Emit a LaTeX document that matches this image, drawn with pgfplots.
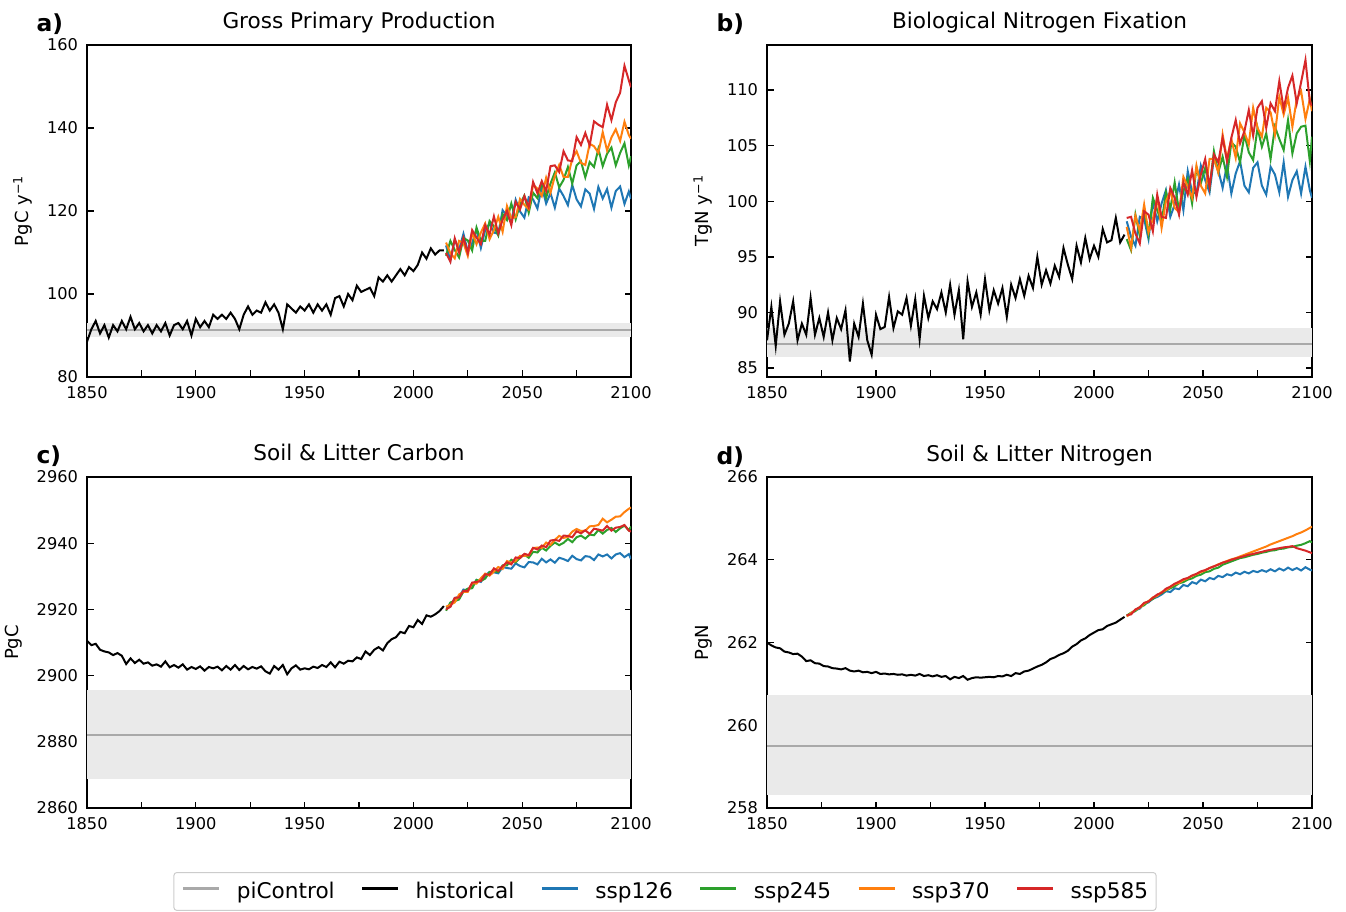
\documentclass[border=0pt]{standalone}
\usepackage{pgfplots}
\pgfplotsset{compat=1.18}
\usepackage{pgfplotstable}
\usepackage{fontspec}
\setmainfont{DejaVu Sans}
\definecolor{c126}{HTML}{1F77B4}
\definecolor{c245}{HTML}{2CA02C}
\definecolor{c370}{HTML}{FF7F0E}
\definecolor{c585}{HTML}{D62728}
\definecolor{pic}{HTML}{A9A9A9}
\definecolor{band}{HTML}{EAEAEA}
\definecolor{lgd}{HTML}{CCCCCC}

% ---------- Panel a: GPP ----------
\pgfplotstableread[row sep=\\]{year val\\
1850 88.5\\1852 91.5\\1854 93.5\\1856 90.5\\1858 92.5\\1860 89.5\\1862 92.5\\1864 91\\1866 93.5\\1868 91.5\\
1870 94.5\\1872 91.5\\1874 93\\1876 91\\1878 92.5\\1880 90.5\\1882 92.5\\1884 91\\1886 93\\1888 90\\
1890 92.5\\1892 93\\1894 91.5\\1896 93.5\\1898 90\\1900 94\\1902 92\\1904 93.5\\1906 92\\1908 95\\
1910 94\\1912 95\\1914 94\\1916 95.5\\1918 94\\1920 91.5\\1922 95\\1924 97\\1926 95\\1928 96\\
1930 95.5\\1932 98\\1934 96\\1936 97.5\\1938 95.5\\1940 91.5\\1942 97.5\\1944 96.5\\1946 95.5\\1948 97\\
1950 96\\1952 97.5\\1954 95.5\\1956 97.5\\1958 96\\1960 97.5\\1962 95\\1964 99\\1966 99.5\\1968 97\\
1970 100\\1972 98.5\\1974 102\\1976 100.5\\1978 101\\1980 101.5\\1982 99.5\\1984 104\\1986 103\\1988 104.5\\
1990 103\\1992 104.5\\1994 106\\1996 104.5\\1998 106.5\\2000 105.5\\2002 107\\2004 110\\2006 108.5\\2008 111\\
2010 109.5\\2012 110.5\\2014 110.5\\
}\histA
\pgfplotstableread[row sep=\\]{year s126 s245 s370 s585\\
2015 111.7 109.2 112.4 109.9\\2017 108.1 112.8 109.8 107.8\\2019 113.1 110.6 108.6 113.4\\2021 110.7 108.8 112.8 110.0\\
2023 114.5 113.5 112.3 113.5\\2025 110.2 112.9 109.2 109.9\\2027 112.3 110.5 114.8 115.4\\2029 115.6 116.0 112.0 113.6\\
2031 111.1 112.8 114.8 112.0\\2033 115.4 112.8 117.0 116.6\\2035 117.0 117.6 113.2 114.3\\2037 114.8 116.3 115.4 118.7\\
2039 114.5 114.1 118.6 114.6\\2041 120.2 119.2 115.0 117.9\\2043 118.8 117.8 121.2 120.0\\2045 117.5 121.8 118.3 116.6\\
2047 122.7 118.0 118.5 122.2\\2049 119.9 121.6 122.9 120.4\\2051 118.4 123.7 121.5 123.6\\2053 123.3 119.6 120.4 120.9\\
2055 122.8 124.4 126.3 127.0\\2057 120.6 123.1 125.4 124.3\\2059 125.9 126.8 123.6 127.2\\2061 121.8 123.2 128.0 124.8\\
2063 124.3 126.6 124.4 130.8\\2065 120.8 129.3 128.4 131.0\\2067 125.4 125.7 131.1 129.4\\2069 123.6 127.5 128.2 134.4\\
2071 121.4 130.6 128.2 132.2\\2073 126.3 126.6 132.6 132.0\\2075 122.8 131.0 134.4 137.8\\2077 121.1 132.0 131.6 135.9\\
2079 125.2 128.1 131.1 138.8\\2081 124.2 131.8 136.2 135.8\\2083 120.5 130.6 135.6 141.6\\2085 125.8 135.0 134.0 140.8\\
2087 123.0 130.8 139.0 140.2\\2089 125.3 133.8 134.6 145.6\\2091 120.8 135.3 137.7 141.9\\2093 124.8 131.0 139.7 146.2\\
2095 125.9 134.0 136.9 148.5\\2097 121.7 136.3 141.5 155.0\\2099 124.7 131.0 138.3 151.5\\2100 122.9 133.2 137.4 149.8\\
}\sspA

% ---------- Panel b: BNF ----------
\pgfplotstableread[row sep=\\]{year val\\
1850 87.5\\1852 90.5\\1854 87\\1856 91\\1858 88\\1860 89\\1862 91\\1864 87.5\\1866 89\\1868 88\\
1870 91.3\\1872 88\\1874 89.5\\1876 87.8\\1878 90\\1880 87.5\\1882 89.5\\1884 88.5\\1886 90.2\\1888 85.6\\
1890 89\\1892 87.8\\1894 90.8\\1896 87.5\\1898 86.2\\1900 89.8\\1902 88.5\\1904 88.7\\1906 91.4\\1908 88.6\\
1910 90.1\\1912 89.8\\1914 91.3\\1916 88.8\\1918 91.2\\1920 87.6\\1922 91.5\\1924 89.5\\1926 91\\1928 90.3\\
1930 91.8\\1932 90\\1934 92.5\\1936 89.8\\1938 92\\1940 87.6\\1942 92.8\\1944 90.5\\1946 91.8\\1948 89.8\\
1950 93\\1952 90.2\\1954 92\\1956 90.8\\1958 92.2\\1960 89.6\\1962 92.5\\1964 91.3\\1966 93\\1968 91.5\\
1970 93.3\\1972 92.2\\1974 95\\1976 92.5\\1978 93.8\\1980 92.6\\1982 94.2\\1984 93.2\\1986 95.8\\1988 94.3\\
1990 93\\1992 96\\1994 94.5\\1996 96.7\\1998 94.8\\2000 96\\2002 95\\2004 97.5\\2006 96.3\\2008 96.5\\
2010 98.5\\2012 96.3\\2014 97\\
}\histB
\pgfplotstableread[row sep=\\]{year s126 s245 s370 s585\\
2015 98.2 96.6 97.7 98.5\\2017 96.8 95.6 95.8 98.6\\2019 96.0 98.8 98.7 97.1\\2021 98.6 96.9 97.3 96.2\\
2023 98.4 99.1 99.7 99.1\\2025 96.6 97.0 97.2 98.8\\2027 100.0 100.3 98.4 97.3\\2029 98.2 99.2 100.3 100.6\\
2031 99.8 98.1 97.6 98.6\\2033 101.0 100.8 100.0 98.5\\2035 98.6 99.3 100.9 101.2\\2037 99.7 101.7 99.4 100.3\\
2039 101.5 99.1 99.0 98.8\\2041 99.2 100.9 102.2 101.7\\2043 102.7 102.0 101.3 100.6\\2045 100.8 99.8 100.3 102.8\\
2047 100.7 103.0 103.2 100.4\\2049 103.2 101.6 101.4 102.4\\2051 101.9 103.0 100.7 103.8\\2053 100.8 101.2 103.8 101.3\\
2055 103.9 104.5 103.8 104.2\\2057 102.8 102.6 102.6 103.5\\2059 101.2 104.0 106.0 105.7\\2061 103.3 102.2 103.8 103.6\\
2063 100.7 105.3 105.6 105.7\\2065 102.5 104.9 103.9 107.3\\2067 103.6 103.5 107.0 105.2\\2069 101.4 106.0 106.2 106.3\\
2071 100.8 104.4 105.1 108.2\\2073 103.0 103.7 108.4 105.9\\2075 103.5 106.6 106.6 108.4\\2077 101.4 104.9 105.8 109.0\\
2079 100.6 106.1 108.4 106.6\\2081 103.1 103.8 108.0 108.8\\2083 102.4 106.7 106.0 108.1\\2085 100.8 105.6 109.4 110.8\\
2087 103.5 104.6 107.8 108.3\\2089 100.4 107.3 109.3 110.2\\2091 101.9 104.3 106.7 111.3\\2093 102.7 106.1 109.2 108.8\\
2095 100.7 106.7 109.9 110.7\\2097 103.1 106.8 107.4 112.7\\2099 101.0 103.6 109.2 108.9\\2100 100.3 105.8 108.1 108.6\\
}\sspB

% ---------- Panel c: Soil C ----------
\pgfplotstableread[row sep=\\]{year val\\
1850 2910.5\\1852 2909.2\\1854 2909.6\\1856 2907.8\\1858 2907.3\\1860 2907.0\\1862 2906.2\\1864 2906.8\\1866 2906.0\\1868 2903.5\\
1870 2905.2\\1872 2903.8\\1874 2904.8\\1876 2903.6\\1878 2904.0\\1880 2903.0\\1882 2903.4\\1884 2902.7\\1886 2904.3\\1888 2902.5\\
1890 2903.2\\1892 2902.4\\1894 2903.4\\1896 2901.8\\1898 2902.6\\1900 2902.0\\1902 2902.8\\1904 2901.5\\1906 2902.6\\1908 2902.2\\
1910 2902.7\\1912 2901.6\\1914 2902.9\\1916 2901.8\\1918 2903.2\\1920 2901.7\\1922 2902.9\\1924 2901.9\\1926 2902.6\\1928 2902.1\\
1930 2902.8\\1932 2901.3\\1934 2900.6\\1936 2902.9\\1938 2901.8\\1940 2903.2\\1942 2900.4\\1944 2902.2\\1946 2903.1\\1948 2901.8\\
1950 2902.2\\1952 2901.9\\1954 2902.7\\1956 2902.3\\1958 2903.2\\1960 2902.6\\1962 2904.0\\1964 2902.5\\1966 2904.2\\1968 2903.6\\
1970 2904.5\\1972 2904.3\\1974 2905.5\\1976 2905.0\\1978 2907.3\\1980 2906.2\\1982 2907.8\\1984 2908.6\\1986 2907.6\\1988 2909.8\\
1990 2911.0\\1992 2911.6\\1994 2913.2\\1996 2912.8\\1998 2915.0\\2000 2914.6\\2002 2916.8\\2004 2915.6\\2006 2918.2\\2008 2917.8\\
2010 2918.5\\2012 2919.5\\2014 2921.0\\
}\histC
\pgfplotstableread[row sep=\\]{year s126 s245 s370 s585\\
2015 2920.6 2919.6 2920.8 2920.0\\2017 2920.9 2922.1 2921.4 2920.8\\2019 2923.4 2922.5 2922.1 2923.5\\2021 2923.8 2923.0 2924.5 2923.6\\
2023 2926.0 2925.4 2925.3 2925.6\\2025 2925.7 2926.3 2925.3 2925.6\\2027 2927.1 2926.4 2927.9 2928.1\\2029 2928.9 2928.9 2927.8 2928.3\\
2031 2928.3 2928.6 2929.4 2928.6\\2033 2930.3 2929.3 2930.8 2930.6\\2035 2931.3 2931.3 2930.2 2930.5\\2037 2931.2 2931.5 2931.4 2932.4\\
2039 2930.9 2931.3 2932.8 2931.6\\2041 2932.8 2933.3 2932.2 2933.1\\2043 2932.5 2933.3 2934.6 2934.2\\2045 2932.3 2935.0 2934.1 2933.6\\
2047 2933.9 2934.2 2934.6 2935.7\\2049 2933.1 2935.6 2936.2 2935.5\\2051 2932.7 2936.6 2936.2 2936.8\\2053 2934.3 2935.6 2936.3 2936.4\\
2055 2934.2 2937.4 2938.5 2938.6\\2057 2933.6 2937.2 2938.7 2938.1\\2059 2935.3 2938.6 2938.6 2939.3\\2061 2934.2 2937.8 2940.2 2938.8\\
2063 2935.1 2939.2 2939.5 2940.8\\2065 2934.1 2940.2 2941.0 2941.0\\2067 2935.6 2939.4 2942.2 2940.7\\2069 2935.2 2940.1 2941.6 2942.3\\
2071 2934.6 2941.3 2941.9 2942.2\\2073 2936.2 2940.3 2943.5 2941.8\\2075 2935.2 2941.8 2944.3 2943.6\\2077 2934.8 2942.3 2943.7 2943.0\\
2079 2936.1 2941.4 2943.8 2943.9\\2081 2935.9 2942.6 2945.1 2942.8\\2083 2934.9 2942.4 2945.2 2944.4\\2085 2936.6 2944.0 2945.5 2944.1\\
2087 2936.0 2942.9 2947.4 2943.8\\2089 2936.6 2944.0 2946.3 2945.2\\2091 2935.4 2944.6 2947.1 2943.8\\2093 2936.6 2943.4 2948.0 2944.7\\
2095 2937.0 2944.5 2948.1 2944.9\\2097 2935.8 2945.3 2949.4 2945.5\\2099 2936.7 2943.9 2950.4 2943.8\\2100 2935.2 2945.0 2950.8 2943.5\\
}\sspC

% ---------- Panel d: Soil N ----------
\pgfplotstableread[row sep=\\]{year val\\
1850 262.00\\1852 261.93\\1854 261.88\\1856 261.86\\1858 261.78\\1860 261.76\\1862 261.72\\1864 261.73\\1866 261.66\\1868 261.55\\
1870 261.57\\1872 261.50\\1874 261.49\\1876 261.43\\1878 261.42\\1880 261.38\\1882 261.37\\1884 261.35\\1886 261.38\\1888 261.32\\
1890 261.30\\1892 261.32\\1894 261.28\\1896 261.29\\1898 261.26\\1900 261.29\\1902 261.24\\1904 261.25\\1906 261.23\\1908 261.24\\
1910 261.22\\1912 261.23\\1914 261.20\\1916 261.22\\1918 261.20\\1920 261.24\\1922 261.19\\1924 261.21\\1926 261.18\\1928 261.21\\
1930 261.17\\1932 261.19\\1934 261.11\\1936 261.17\\1938 261.14\\1940 261.19\\1942 261.10\\1944 261.14\\1946 261.16\\1948 261.15\\
1950 261.16\\1952 261.17\\1954 261.16\\1956 261.19\\1958 261.18\\1960 261.22\\1962 261.19\\1964 261.26\\1966 261.24\\1968 261.30\\
1970 261.32\\1972 261.37\\1974 261.42\\1976 261.46\\1978 261.52\\1980 261.60\\1982 261.64\\1984 261.70\\1986 261.74\\1988 261.80\\
1990 261.90\\1992 261.96\\1994 262.05\\1996 262.10\\1998 262.18\\2000 262.24\\2002 262.30\\2004 262.32\\2006 262.40\\2008 262.44\\
2010 262.48\\2012 262.55\\2014 262.62\\
}\histD
\pgfplotstableread[row sep=\\]{year s126 s245 s370 s585\\
2015 262.64 262.65 262.63 262.66\\2017 262.70 262.72 262.71 262.68\\2019 262.78 262.76 262.79 262.80\\2021 262.82 262.86 262.84 262.85\\
2023 262.93 262.90 262.94 262.96\\2025 262.97 263.00 263.00 262.99\\2027 263.06 263.05 263.09 263.08\\2029 263.10 263.14 263.13 263.16\\
2031 263.16 263.19 263.22 263.20\\2033 263.24 263.26 263.27 263.30\\2035 263.22 263.31 263.34 263.35\\2037 263.31 263.36 263.41 263.42\\
2039 263.29 263.43 263.44 263.47\\2041 263.39 263.46 263.51 263.53\\2043 263.36 263.52 263.55 263.56\\2045 263.46 263.55 263.61 263.62\\
2047 263.42 263.61 263.65 263.66\\2049 263.52 263.64 263.70 263.72\\2051 263.48 263.70 263.74 263.75\\2053 263.56 263.72 263.80 263.80\\
2055 263.53 263.78 263.84 263.84\\2057 263.61 263.81 263.89 263.88\\2059 263.58 263.88 263.93 263.93\\2061 263.65 263.92 263.97 263.96\\
2063 263.62 263.96 264.01 264.00\\2065 263.69 264.00 264.04 264.03\\2067 263.65 264.04 264.08 264.06\\2069 263.71 264.06 264.12 264.09\\
2071 263.67 264.09 264.16 264.12\\2073 263.73 264.12 264.20 264.14\\2075 263.70 264.14 264.24 264.17\\2077 263.75 264.17 264.28 264.19\\
2079 263.71 264.19 264.32 264.22\\2081 263.77 264.22 264.37 264.24\\2083 263.72 264.23 264.41 264.26\\2085 263.79 264.26 264.45 264.28\\
2087 263.74 264.27 264.49 264.30\\2089 263.81 264.30 264.53 264.31\\2091 263.75 264.31 264.57 264.33\\2093 263.80 264.34 264.62 264.28\\
2095 263.74 264.36 264.66 264.25\\2097 263.82 264.40 264.71 264.22\\2099 263.76 264.45 264.77 264.18\\2100 263.74 264.42 264.80 264.16\\
}\sspD

\tikzset{plab/.style={anchor=base west, font=\bfseries\fontsize{23.4}{28}\selectfont, xshift=-54pt, yshift=13pt}}
\pgfplotsset{
  panel/.style={
    scale only axis, anchor=south west,
    xmin=1850, xmax=2100,
    xtick={1850,1900,...,2100}, minor xtick={1875,1925,...,2075},
    tick align=inside, xtick pos=left,
    major tick length=6.5pt, minor tick length=6.5pt,
    tick style={black, line width=1.3pt},
    axis line style={line width=1.5pt},
    ticklabel style={font=\fontsize{16.2}{19}\selectfont},
    /pgf/number format/assume math mode=true,
    /pgf/number format/1000 sep={},
    scaled ticks=false,
    yticklabel style={xshift=-5.5pt},
    xticklabel style={yshift=-5.5pt},
    title style={font=\fontsize{21.6}{26}\selectfont, at={(0.5,1)}, anchor=base, yshift=10pt},
    ylabel style={font=\fontsize{18}{22}\selectfont, inner ysep=11pt},
    every axis plot/.append style={line width=2pt},
  },
  hist/.style={black},
}

\begin{document}
\begin{tikzpicture}
\useasboundingbox (0,0) rectangle (1346pt,911pt);

% a
\begin{axis}[panel, at={(87pt,534pt)}, width=544pt, height=332pt,
  ymin=80, ymax=160, ytick={80,100,...,160},
  title={Gross Primary Production},
  ylabel={PgC y\textsuperscript{−1}},
  extra description/.code={\node[plab] at (0,1) {a)};}]
\addplot[draw=none, fill=band] coordinates {(1850,89.7) (2100,89.7) (2100,93.1) (1850,93.1)};
\addplot[pic] coordinates {(1850,91.3) (2100,91.3)};
\addplot[hist] table[x=year,y=val] {\histA};
\addplot[c126] table[x=year,y=s126] {\sspA};
\addplot[c245] table[x=year,y=s245] {\sspA};
\addplot[c370] table[x=year,y=s370] {\sspA};
\addplot[c585] table[x=year,y=s585] {\sspA};
\end{axis}

% b
\begin{axis}[panel, at={(767pt,534pt)}, width=545pt, height=332pt,
  ymin=84.2, ymax=114.05, ytick={85,90,...,110},
  title={Biological Nitrogen Fixation},
  ylabel={TgN y\textsuperscript{−1}},
  extra description/.code={\node[plab] at (0,1) {b)};}]
\addplot[draw=none, fill=band] coordinates {(1850,86.0) (2100,86.0) (2100,88.6) (1850,88.6)};
\addplot[pic] coordinates {(1850,87.2) (2100,87.2)};
\addplot[hist] table[x=year,y=val] {\histB};
\addplot[c126] table[x=year,y=s126] {\sspB};
\addplot[c245] table[x=year,y=s245] {\sspB};
\addplot[c370] table[x=year,y=s370] {\sspB};
\addplot[c585] table[x=year,y=s585] {\sspB};
\end{axis}

% c
\begin{axis}[panel, at={(87pt,103pt)}, width=544pt, height=331pt,
  ymin=2860, ymax=2960, ytick={2860,2880,...,2960},
  title={Soil \& Litter Carbon},
  ylabel={PgC},
  extra description/.code={\node[plab] at (0,1) {c)};},
  legend columns=6,
  legend image code/.code={\draw[line width=3pt] (0pt,0.3em) -- (36pt,0.3em);},
  legend style={at={(1.0625,-0.1934)}, anchor=north, draw=lgd, line width=1pt, rounded corners=3pt,
    font=\fontsize{21.6}{25}\selectfont, inner xsep=8pt, inner ysep=10pt,
    nodes={inner sep=0pt},
    /tikz/every odd column/.append style={column sep=16pt},
    /tikz/every even column/.append style={column sep=26pt}}]
\addplot[draw=none, fill=band, forget plot] coordinates {(1850,2868.9) (2100,2868.9) (2100,2895.5) (1850,2895.5)};
\addplot[pic] coordinates {(1850,2882.2) (2100,2882.2)};
\addlegendentry{piControl}
\addplot[hist] table[x=year,y=val] {\histC};
\addlegendentry{historical}
\addplot[c126] table[x=year,y=s126] {\sspC};
\addlegendentry{ssp126}
\addplot[c245] table[x=year,y=s245] {\sspC};
\addlegendentry{ssp245}
\addplot[c370] table[x=year,y=s370] {\sspC};
\addlegendentry{ssp370}
\addplot[c585] table[x=year,y=s585] {\sspC};
\addlegendentry{ssp585}
\end{axis}

% d
\begin{axis}[panel, at={(767pt,103pt)}, width=545pt, height=331pt,
  ymin=258, ymax=266, ytick={258,260,...,266},
  title={Soil \& Litter Nitrogen},
  ylabel={PgN},
  extra description/.code={\node[plab] at (0,1) {d)};}]
\addplot[draw=none, fill=band] coordinates {(1850,258.31) (2100,258.31) (2100,260.72) (1850,260.72)};
\addplot[pic] coordinates {(1850,259.51) (2100,259.51)};
\addplot[hist] table[x=year,y=val] {\histD};
\addplot[c126] table[x=year,y=s126] {\sspD};
\addplot[c245] table[x=year,y=s245] {\sspD};
\addplot[c370] table[x=year,y=s370] {\sspD};
\addplot[c585] table[x=year,y=s585] {\sspD};
\end{axis}
\end{tikzpicture}
\end{document}
